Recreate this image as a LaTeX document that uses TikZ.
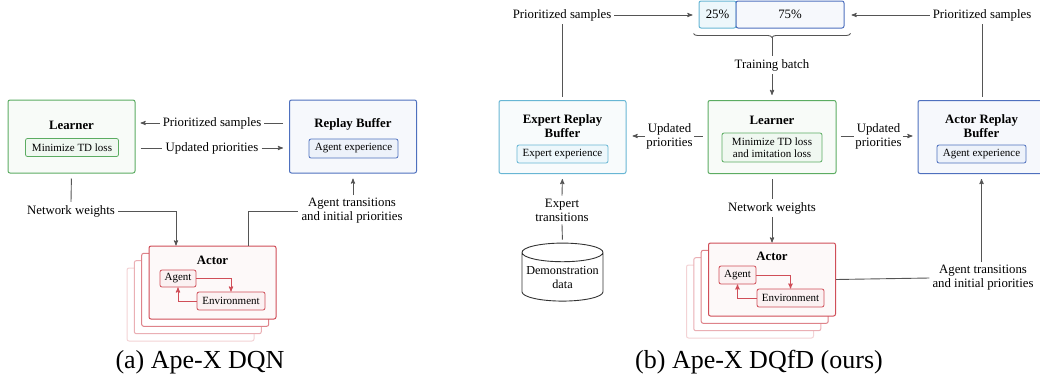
\documentclass[tikz,border=0pt]{standalone}
\usepackage{fontspec}
\setmainfont{Liberation Serif}
\usepackage{tikz}
\usetikzlibrary{arrows}
\usetikzlibrary{calc}
\usetikzlibrary{shapes.geometric}
\usetikzlibrary{decorations.pathreplacing}
\definecolor{lgreen}{RGB}{92,172,98}
\definecolor{lgreenbg}{RGB}{248,251,248}
\definecolor{lgreenin}{RGB}{240,248,241}
\definecolor{lblue}{RGB}{78,112,190}
\definecolor{lbluebg}{RGB}{246,248,252}
\definecolor{lbluein}{RGB}{237,242,250}
\definecolor{lcyan}{RGB}{104,182,212}
\definecolor{lcyanbg}{RGB}{248,251,252}
\definecolor{lcyanin}{RGB}{237,247,251}
\definecolor{lred}{RGB}{208,78,88}
\definecolor{lredbg}{RGB}{253,249,249}
\definecolor{lredin}{RGB}{251,241,242}
\definecolor{lgray}{RGB}{85,85,85}
\tikzset{
	outerbox/.style={draw,rounded corners=2pt,line width=1pt,minimum width=127pt,minimum height=73pt,inner sep=0pt},
	boxtitle/.style={font=\bfseries\fontsize{12.8}{14}\selectfont,align=center,inner sep=0pt},
	inbox/.style={draw,rounded corners=2pt,line width=0.8pt,font=\fontsize{11}{12.5}\selectfont,align=center,inner sep=0pt},
	lbl/.style={font=\fontsize{12.8}{14}\selectfont,align=center,inner sep=3pt},
	conn/.style={draw=lgray,line width=0.9pt},
	envarrow/.style={draw=lred,line width=0.9pt,->},
	captxt/.style={font=\fontsize{26}{30}\selectfont,inner sep=0pt},
}

\begin{document}
\begin{tikzpicture}[x=1pt,y=-1pt,>=stealth']
			\useasboundingbox(0,0)rectangle(1040,375);
			\node[outerbox,draw=lgreen,fill=lgreenbg](lrA)at(71.5,136.5){};
			\node[boxtitle](lrAt)at(71.5,125){Learner};
			\node[inbox,draw=lgreen,fill=lgreenin,minimum width=93pt,minimum height=18pt](lrAin)at(72,147.5){Minimize TD loss};
			\node[outerbox,draw=lblue,fill=lbluebg](rbA)at(353,136.5){};
			\node[boxtitle](rbAt)at(353,124){Replay Buffer};
			\node[inbox,draw=lblue,fill=lbluein,minimum width=89pt,minimum height=19pt](rbAin)at(353.5,148.5){Agent experience};
			\node[outerbox,draw=lred!25!white,fill=white](acA3)at(190.5,304.5){};
			\node[outerbox,draw=lred!45!white,fill=white](acA2)at(197.8,297.2){};
			\node[outerbox,draw=lred!70!white,fill=white](acA1)at(205.2,289.8){};
			\node[outerbox,draw=lred,fill=lredbg](acA)at(212.5,282.5){};
			\node[boxtitle](acAt)at(212.5,260){Actor};
			\node[inbox,draw=lred,fill=lredin,minimum width=36pt,minimum height=17pt](agA)at(178,278.5){Agent};
			\node[inbox,draw=lred,fill=lredin,minimum width=68pt,minimum height=18pt](envA)at(231,301){Environment};
			\node[lbl](psA)at(212,123){Prioritized samples};
			\node[lbl](upA)at(212,148){Updated priorities};
			\node[lbl](nwA)at(71,211){Network weights};
			\node[lbl](atA)at(352,211){Agent transitions\\and initial priorities};
			\node[captxt](capA)at(200,362){(a) Ape-X DQN};
			\draw[conn,shorten <=6pt](psA.east-|rbA.west)--(psA.east);
			\draw[conn,->,shorten >=5pt](psA.west)--(psA.west-|lrA.east);
			\draw[conn,shorten <=5pt](upA.west-|lrA.east)--(upA.west);
			\draw[conn,->,shorten >=6pt](upA.east)--(upA.east-|rbA.west);
			\draw[conn,shorten <=5pt](lrA.south)--(nwA.north);
			\draw[conn,->](nwA.east)-|([xshift=-36.5pt]acA.north);
			\draw[conn]([xshift=35.5pt]acA.north)|-(atA.west);
			\draw[conn,->,shorten >=5pt](rbA.south|-atA.north)--(rbA.south);
			\draw[envarrow](agA.east)-|(envA.north);
			\draw[envarrow](envA.west)-|(agA.south);
			\node[inbox,font=\fontsize{12.8}{14}\selectfont,line width=1pt,draw=lcyan,fill=lcyanin,minimum width=37pt,minimum height=27pt](b25)at(717.5,14.5){25\%};
			\node[inbox,font=\fontsize{12.8}{14}\selectfont,line width=1pt,draw=lblue,fill=lbluebg,minimum width=108pt,minimum height=27pt](b75)at(790,14.5){75\%};
			\node[lbl](psL)at(562,15){Prioritized samples};
			\node[lbl](psR)at(982,15){Prioritized samples};
			\node[lbl](tbB)at(772,65){Training batch};
			\coordinate(bt)at(772,37);
			\node[outerbox,draw=lcyan,fill=lcyanbg](erB)at(562.5,137){};
			\node[boxtitle](erBt)at(562.5,126){Expert Replay\\Buffer};
			\node[inbox,draw=lcyan,fill=lcyanin,minimum width=91pt,minimum height=18pt](erBin)at(562.5,154){Expert experience};
			\node[outerbox,draw=lgreen,fill=lgreenbg,minimum width=128pt](lrB)at(772,137){};
			\node[boxtitle](lrBt)at(772,120){Learner};
			\node[inbox,draw=lgreen,fill=lgreenin,minimum width=100pt,minimum height=29pt](lrBin)at(772,147.5){Minimize TD loss\\and imitation loss};
			\node[outerbox,draw=lblue,fill=lbluebg](arB)at(981.5,137){};
			\node[boxtitle](arBt)at(981.5,126){Actor Replay\\Buffer};
			\node[inbox,draw=lblue,fill=lbluein,minimum width=89pt,minimum height=18pt](arBin)at(981.5,154){Agent experience};
			\node[outerbox,draw=lred!25!white,fill=white](acB3)at(750,301.5){};
			\node[outerbox,draw=lred!45!white,fill=white](acB2)at(757.3,294.2){};
			\node[outerbox,draw=lred!70!white,fill=white](acB1)at(764.7,286.8){};
			\node[outerbox,draw=lred,fill=lredbg](acB)at(772,279.5){};
			\node[boxtitle](acBt)at(772,256){Actor};
			\node[inbox,draw=lred,fill=lredin,minimum width=37pt,minimum height=18pt](agB)at(737.5,275){Agent};
			\node[inbox,draw=lred,fill=lredin,minimum width=67pt,minimum height=18pt](envB)at(790.5,298){Environment};
			\node[cylinder,shape border rotate=90,draw=black!80,line width=0.9pt,aspect=0.25,minimum width=81pt,minimum height=58pt,align=center,inner sep=1pt,font=\fontsize{12.2}{14}\selectfont](demo)at(562.5,278){Demonstration\\data};
			\node[lbl,inner sep=1pt](upL)at(669.5,136){Updated\\priorities};
			\node[lbl,inner sep=1pt](upR)at(878.5,136){Updated\\priorities};
			\node[lbl](nwB)at(772,208){Network weights};
			\node[lbl](etB)at(562,210){Expert\\transitions};
			\node[lbl](atB)at(983,278){Agent transitions\\and initial priorities};
			\node[captxt](capB)at(759,362){(b) Ape-X DQfD (ours)};
			\draw[conn,decorate,decoration={brace,amplitude=4pt,mirror}]($(b25.south west)+(-5,5)$)--($(b75.south east)+(6,5)$);
			\draw[conn](bt)--(tbB.north);
			\draw[conn,->,shorten >=5pt](tbB.south)--(lrB.north);
			\draw[conn,->,shorten >=6pt](psL.east)--(psL.east-|b25.west);
			\draw[conn,shorten >=3pt](psL.south)--(psL.south|-erB.north);
			\draw[conn,->,shorten >=7pt](psR.west)--(psR.west-|b75.east);
			\draw[conn,shorten >=3pt](psR.south)--(psR.south|-arB.north);
			\draw[conn,shorten <=5pt](upL.east-|lrB.west)--(upL.east);
			\draw[conn,->,shorten >=6pt](upL.west)--(upL.west-|erB.east);
			\draw[conn,shorten <=4pt](upR.west-|lrB.east)--(upR.west);
			\draw[conn,->,shorten >=5pt](upR.east)--(upR.east-|arB.west);
			\draw[conn,shorten <=5pt](lrB.south)--(nwB.north);
			\draw[conn,->](nwB.south)--(acB.north);
			\draw[conn](acB.east)--(atB.west);
			\draw[conn,->,shorten >=5pt](arB.south|-atB.north)--(arB.south);
			\draw[conn,->,shorten >=5pt](etB.north)--(erB.south);
			\draw[conn,shorten <=3pt](demo.north)--(etB.south);
			\draw[envarrow](agB.east)-|(envB.north);
			\draw[envarrow](envB.west)-|(agB.south);
		\end{tikzpicture}
\end{document}
